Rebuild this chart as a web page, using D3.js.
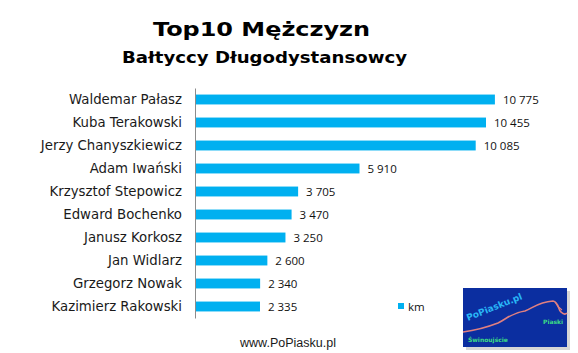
<!DOCTYPE html>
<html lang="pl">
<head>
<meta charset="UTF-8">
<title>Top10 Mężczyzn</title>
<script src="https://d3js.org/d3.v7.min.js"></script>
<style>
  body { margin: 0; background: #fff; }
  .cat { font-family: "DejaVu Sans", Verdana, sans-serif; font-size: 13.3px; fill: #1a1a1a; }
  .val { font-family: "Open Sans", "Liberation Sans", sans-serif; font-size: 11.5px; fill: #111; }
  .ttl { font-family: "DejaVu Sans", Verdana, sans-serif; font-weight: bold; fill: #000; }
</style>
</head>
<body>
<svg width="578" height="353"></svg>
<script>
const names = ["Waldemar Pałasz", "Kuba Terakowski", "Jerzy Chanyszkiewicz", "Adam Iwański",
  "Krzysztof Stepowicz", "Edward Bochenko", "Janusz Korkosz", "Jan Widlarz",
  "Grzegorz Nowak", "Kazimierz Rakowski"];
const km = [10775, 10455, 10085, 5910, 3705, 3470, 3250, 2600, 2340, 2335];
const seriesName = "km";

const svg = d3.select("svg");
const plotLeft = 195, plotTop = 88, plotH = 230;

const x = d3.scaleLinear().domain([0, 12000]).range([plotLeft, plotLeft + 334]);
const y = d3.scaleBand().domain(names).range([plotTop, plotTop + plotH])
  .paddingInner(0.57).paddingOuter(0.285);

const fmt = v => d3.format(",")(v).replace(/,/g, " ");

// titles (the source image is slightly stretched horizontally)
svg.append("text").attr("class", "ttl").attr("x", 153).attr("y", 36)
  .attr("textLength", 217).attr("lengthAdjust", "spacingAndGlyphs")
  .style("font-size", "19.5px").text("Top10 Mężczyzn");
svg.append("text").attr("class", "ttl").attr("x", 122).attr("y", 63)
  .attr("textLength", 285).attr("lengthAdjust", "spacingAndGlyphs")
  .style("font-size", "15px").text("Bałtyccy Długodystansowcy");

// bars
svg.selectAll(".bar").data(names).enter().append("rect")
  .attr("x", x(0)).attr("y", d => y(d))
  .attr("width", (d, i) => x(km[i]) - x(0))
  .attr("height", y.bandwidth())
  .attr("fill", "#00b0f0");

// axis
const ax = svg.append("g").attr("transform", `translate(${plotLeft},0)`)
  .call(d3.axisLeft(y).tickSize(0).tickPadding(13));
ax.select(".domain").attr("stroke", "#8c8c8c");
ax.selectAll("text").attr("class", "cat").attr("font-family", null).attr("font-size", null);

// value labels
svg.selectAll(".val").data(names).enter().append("text")
  .attr("class", "val")
  .attr("x", (d, i) => x(km[i]) + 8)
  .attr("y", d => y(d) + y.bandwidth() / 2 + 4.5)
  .text((d, i) => fmt(km[i]));

// legend
svg.append("rect").attr("x", 398).attr("y", 303).attr("width", 6).attr("height", 6).attr("fill", "#00b0f0");
svg.append("text").attr("class", "val").attr("x", 408).attr("y", 310.5).text(seriesName);

// footer
svg.append("text").attr("x", 288).attr("y", 347).attr("text-anchor", "middle")
  .style("font-family", "Liberation Sans, Arial, sans-serif").style("font-size", "12.5px")
  .style("fill", "#1a1a1a").text("www.PoPiasku.pl");

// logo
const logo = svg.append("g").attr("transform", "translate(463,288)");
logo.append("rect").attr("x", 3).attr("y", 3).attr("width", 104).attr("height", 59).attr("fill", "#bbb").attr("opacity", 0.6);
logo.append("rect").attr("width", 104).attr("height", 59).attr("fill", "#0b2ea0");
logo.append("path").attr("d", "M0,44 C15,42 22,40 35,35 C45,30 48,25 62,23 C70,20 75,14 90,13 C96,14 95,22 98,24 C100,26 102,27 104,25")
  .attr("fill", "none").attr("stroke", "#e08080").attr("stroke-width", 1.6);
logo.append("path").attr("d", "M92,14 C94,18 96,20 99,22").attr("fill", "none").attr("stroke", "#e08080").attr("stroke-width", 1.2);
logo.append("text").attr("transform", "translate(5,33) rotate(-22)")
  .style("font-family", "DejaVu Sans, sans-serif").style("font-weight", "bold").style("font-size", "9px")
  .style("fill", "#29b6f6").text("PoPiasku.pl");
logo.append("text").attr("x", 80).attr("y", 36)
  .style("font-family", "DejaVu Sans, sans-serif").style("font-weight", "bold").style("font-size", "6px")
  .style("fill", "#3ddc84").text("Piaski");
logo.append("text").attr("x", 5).attr("y", 54)
  .style("font-family", "DejaVu Sans, sans-serif").style("font-weight", "bold").style("font-size", "6px")
  .style("fill", "#3ddc84").text("Świnoujście");
</script>
</body>
</html>
